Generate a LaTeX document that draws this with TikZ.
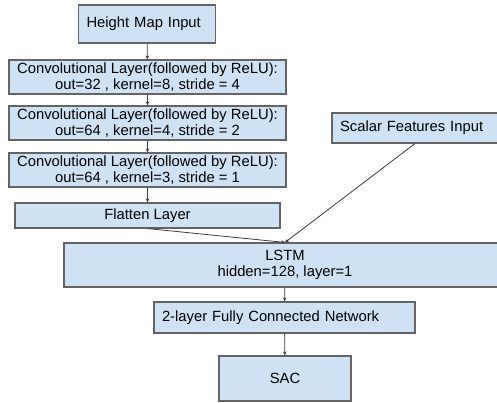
\documentclass[tikz,border=0pt]{standalone}
\usepackage{fontspec}
\setmainfont{Liberation Sans}
\usetikzlibrary{arrows.meta}

\definecolor{boxfill}{RGB}{207,226,243}
\definecolor{boxline}{RGB}{100,100,100}
\definecolor{linkcol}{RGB}{60,60,60}

\tikzset{
  layer/.style={draw=boxline, fill=boxfill, line width=1.1pt, inner sep=0pt,
    align=center, font=\fontsize{14.8}{16}\selectfont},
  leftlayer/.style={layer, align=left, inner xsep=8pt, text width=#1},
  link/.style={draw=linkcol, line width=0.8pt, -{Stealth[length=4pt,width=3.5pt]}},
}

\begin{document}
\begin{tikzpicture}[x=1pt, y=-1pt]
\useasboundingbox (0,0) rectangle (497,402);

% image branch
\node[leftlayer=121pt, minimum height=38pt] (hmap) at (147,24) {Height Map Input};
\node[layer, minimum width=277pt, minimum height=34pt] (conv1) at (147.5,77)
  {Convolutional Layer(followed by ReLU):\\out=32 , kernel=8, stride = 4};
\node[layer, minimum width=277pt, minimum height=34pt] (conv2) at (147.5,123)
  {Convolutional Layer(followed by ReLU):\\out=64 , kernel=4, stride = 2};
\node[layer, minimum width=277pt, minimum height=34pt] (conv3) at (147.5,170)
  {Convolutional Layer(followed by ReLU):\\out=64 , kernel=3, stride = 1};
\node[layer, minimum width=265pt, minimum height=25pt] (flat) at (147.5,215.5) {Flatten Layer};

% scalar branch
\node[leftlayer=150pt, minimum height=30pt] (scalar) at (415,128) {Scalar Features Input};

% shared head
\node[layer, minimum width=442pt, minimum height=44pt] (lstm) at (285,265)
  {LSTM\\hidden=128, layer=1};
\node[leftlayer=245pt, minimum height=31pt] (fc) at (284.5,317.5) {2-layer Fully Connected Network};
\node[layer, minimum width=132pt, minimum height=45pt] (sac) at (285,378.5) {SAC};

\draw[link] (hmap) -- (conv1);
\draw[link] (conv1) -- (conv2);
\draw[link] (conv2) -- (conv3);
\draw[link] (conv3) -- (flat);
\draw[link] (flat.south) -- (lstm.north);
\draw[link] (scalar.south) -- (lstm.north);
\draw[link] (lstm) -- (fc);
\draw[link] (fc) -- (sac);

\end{tikzpicture}
\end{document}
